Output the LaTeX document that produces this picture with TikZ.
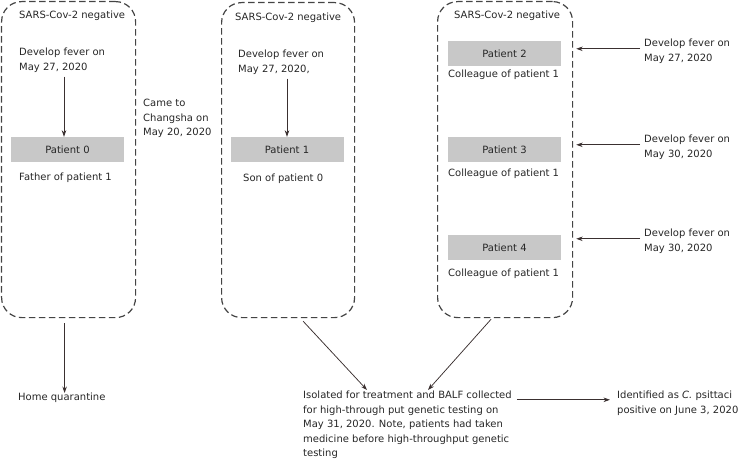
\documentclass[tikz,border=0pt]{standalone}
\usepackage{fontspec}
\setmainfont{DejaVu Sans}
\usetikzlibrary{arrows.meta}
\definecolor{arrc}{HTML}{3A3030}
\definecolor{dashc}{HTML}{444444}
\definecolor{barc}{HTML}{C8C8C8}
\begin{document}
\begin{tikzpicture}[x=1pt,y=-1pt,
  every node/.style={font=\fontsize{10}{14.5}\selectfont, text=black!85},
  dashbox/.style={draw=dashc, dashed, dash pattern=on 6.5pt off 3.5pt, line width=1.2pt, rounded corners=20pt, rectangle, anchor=north west, inner sep=0},
  txt/.style={anchor=north west, inner sep=0, align=left},
  bar/.style={fill=barc, minimum width=113pt, minimum height=25pt, inner sep=0},
  arr/.style={draw=arrc, line width=0.75pt, -{Stealth[length=6.5pt,width=4.5pt]}}]
\useasboundingbox (0,0) rectangle (747,468);
% boxes
\node[dashbox, minimum width=134pt, minimum height=316pt] (box1) at (1,1) {};
\node[dashbox, minimum width=133pt, minimum height=315pt] (box2) at (221,2) {};
\node[dashbox, minimum width=135pt, minimum height=316pt] (box3) at (437,1) {};
% box 1
\node[txt] (s1) at (19,11) {SARS-Cov-2 negative};
\node[txt] (d0) at (19,48) {Develop fever on\\May 27, 2020};
\node[bar] (p0) at (67.5,149.5) {Patient 0};
\node[txt] (r0) at (19,173) {Father of patient 1};
\draw[arr] ([xshift=-3.5pt,yshift=-4pt]d0.south -| p0.north) -- ([xshift=-3.5pt]p0.north);
\node[txt] (came) at (143,99) {Came to\\Changsha on\\May 20, 2020};
% box 2
\node[txt] (s2) at (235,13) {SARS-Cov-2 negative};
\node[txt] (d1) at (238,50) {Develop fever on\\May 27, 2020,};
\node[bar] (p1) at (287,149.5) {Patient 1};
\node[txt] (r1) at (243,174) {Son of patient 0};
\draw[arr] ([yshift=-4pt]d1.south -| p1.north) -- (p1.north);
% box 3
\node[txt] (s3) at (454,11) {SARS-Cov-2 negative};
\node[bar] (p2) at (504.5,53.5) {Patient 2};
\node[txt] (r2) at (448,70) {Colleague of patient 1};
\node[bar] (p3) at (504.5,149.5) {Patient 3};
\node[txt] (r3) at (448,169) {Colleague of patient 1};
\node[bar] (p4) at (504.5,247.5) {Patient 4};
\node[txt] (r4) at (448,269) {Colleague of patient 1};
% right fever notes
\node[txt] (f2) at (644,39) {Develop fever on\\May 27, 2020};
\node[txt] (f3) at (644,135) {Develop fever on\\May 30, 2020};
\node[txt] (f4) at (644,229) {Develop fever on\\May 30, 2020};
\draw[arr] ([xshift=-4pt,yshift=2.5pt]f2.west) -- ([xshift=3pt,yshift=2.5pt]box3.east |- f2.west);
\draw[arr] ([xshift=-4pt,yshift=2.5pt]f3.west) -- ([xshift=3pt,yshift=2.5pt]box3.east |- f3.west);
\draw[arr] ([xshift=-4pt,yshift=2.5pt]f4.west) -- ([xshift=3pt,yshift=2.5pt]box3.east |- f4.west);
% bottom
\node[txt] (hq) at (18,393) {Home quarantine};
\draw[arr] ([xshift=-4pt,yshift=-5pt]box1.south) -- ([xshift=-4pt]box1.south |- hq.north);
\node[txt] (iso) at (303,391) {Isolated for treatment and BALF collected\\for high-through put genetic testing on\\May 31, 2020. Note, patients had taken\\medicine before high-throughput genetic\\testing};
\draw[arr] ([xshift=15pt,yshift=-3pt]box2.south) -- ([xshift=64pt,yshift=1pt]iso.north west);
\draw[arr] ([xshift=-14pt,yshift=-1pt]box3.south) -- ([xshift=125pt,yshift=1pt]iso.north west);
\node[txt] (idf) at (617,391) {Identified as \textit{C.} psittaci\\positive on June 3, 2020};
\draw[arr] ([xshift=5pt,yshift=3.5pt]iso.east |- idf.west) -- ([xshift=-7pt,yshift=3.5pt]idf.west);
\end{tikzpicture}
\end{document}
